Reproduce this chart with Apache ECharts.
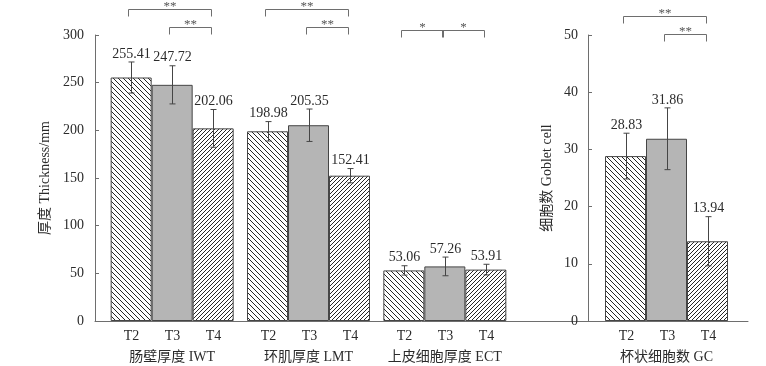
<!DOCTYPE html>
<html>
<head>
<meta charset="utf-8">
<script src="https://cdn.jsdelivr.net/npm/echarts@6/dist/echarts.min.js"></script>
<style>html,body{margin:0;padding:0;background:#fff}#c{width:766px;height:366px}</style>
</head>
<body>
<div id="c"></div>
<script>
// ---------- data ----------
const CATS_LEFT = ['肠壁厚度 IWT', '环肌厚度 LMT', '上皮细胞厚度 ECT'];
const CATS_RIGHT = ['杯状细胞数 GC'];
const TREATMENTS = ['T2', 'T3', 'T4'];
// means (left panel: thickness, mm)
const T2_LEFT = [255.41, 198.98, 53.06];
const T3_LEFT = [247.72, 205.35, 57.26];
const T4_LEFT = [202.06, 152.41, 53.91];
// standard deviations
const T2_LEFT_SD = [16.3, 10.2, 4.9];
const T3_LEFT_SD = [20.0, 17.0, 9.8];
const T4_LEFT_SD = [19.8, 7.5, 5.6];
// right panel: goblet cell count
const T2_RIGHT = [28.83];
const T3_RIGHT = [31.86];
const T4_RIGHT = [13.94];
const T2_RIGHT_SD = [4.0];
const T3_RIGHT_SD = [5.4];
const T4_RIGHT_SD = [4.3];
// significance brackets per group: [fromTreatment, toTreatment, mark]
const SIG_LEFT = [
  [[0, 2, '**'], [1, 2, '**']],
  [[0, 2, '**'], [1, 2, '**']],
  [[0, 1, '*'], [1, 2, '*']]
];
const SIG_RIGHT = [
  [[0, 2, '**'], [1, 2, '**']]
];
const Y_LEFT_MAX = 300, Y_LEFT_STEP = 50;
const Y_RIGHT_MAX = 50, Y_RIGHT_STEP = 10;

// ---------- style / layout ----------
const FONT = "'Liberation Serif', 'Noto Sans CJK SC', serif";
const TXT = '#2b2b2b';
const AXIS = '#6e6e6e';
const EDGE = '#454545';
const BAR_W = 41;
const GRID_TOP = 35, GRID_H = 286;
// bracket heights (px above plot top) per group, per bracket
const BRACKET_UP_LEFT = [[26, 8], [26, 8], [5, 5]];
const BRACKET_UP_RIGHT = [[19, 1]];

function hatch(dir, s) {
  const c = document.createElement('canvas');
  c.width = s; c.height = s;
  const g = c.getContext('2d');
  g.fillStyle = '#ffffff'; g.fillRect(0, 0, s, s);
  g.strokeStyle = '#262626'; g.lineWidth = 1;
  g.beginPath();
  for (let k = -1; k <= 1; k++) {
    if (dir === 'back') { g.moveTo(k * s, 0); g.lineTo(k * s + s, s); }
    else { g.moveTo(k * s, s); g.lineTo(k * s + s, 0); }
  }
  g.stroke();
  return c;
}
const FILL = [
  { image: hatch('back', 5), repeat: 'repeat' },
  '#b5b5b5',
  { image: hatch('fwd', 4), repeat: 'repeat' }
];

function makeRender(means, sds, sigs, ups, yMax) {
  return function (params, api) {
    const i = api.value(0);
    const base = api.coord([i, 0]);
    const top = api.coord([i, yMax])[1];
    const cx = base[0];
    const ch = [];
    const ln = { stroke: EDGE, lineWidth: 1 };
    for (let k = 0; k < 3; k++) {
      const x = Math.round(cx + (k - 1) * BAR_W) + 0.5;
      const m = means[k][i], s = sds[k][i];
      const yt = api.coord([i, m + s])[1];
      const yb = api.coord([i, m - s])[1];
      ch.push({ type: 'line', shape: { x1: x, y1: yt, x2: x, y2: yb }, style: ln });
      ch.push({ type: 'line', shape: { x1: x - 3, y1: yt, x2: x + 3, y2: yt }, style: ln });
      ch.push({ type: 'line', shape: { x1: x - 3, y1: yb, x2: x + 3, y2: yb }, style: ln });
      ch.push({ type: 'text', x: x, y: yt - 1, style: { text: m.toFixed(2), fill: TXT, font: '14px ' + FONT, align: 'center', verticalAlign: 'bottom' } });
      ch.push({ type: 'text', x: x, y: base[1] + 15, style: { text: TREATMENTS[k], fill: TXT, font: '14px ' + FONT, align: 'center', verticalAlign: 'middle' } });
    }
    (sigs[i] || []).forEach(function (sg, j) {
      const y = Math.round(top - ups[i][j]) + 0.5;
      const x1 = Math.round(cx + (sg[0] - 1) * BAR_W - 3) + 0.5;
      const x2 = Math.round(cx + (sg[1] - 1) * BAR_W - 2) + 0.5;
      ch.push({ type: 'polyline', shape: { points: [[x1, y + 7], [x1, y], [x2, y], [x2, y + 7]] }, style: { stroke: AXIS, lineWidth: 1, fill: null } });
      ch.push({ type: 'text', x: (x1 + x2) / 2, y: y - 3, style: { text: sg[2], fill: '#555', font: '13px ' + FONT, align: 'center', verticalAlign: 'middle' } });
    });
    return { type: 'group', children: ch };
  };
}

const chart = echarts.init(document.getElementById('c'), null, { renderer: 'canvas' });

const axisLabelStyle = { color: TXT, fontFamily: FONT, fontSize: 14 };

const series = [];
const leftMeans = [T2_LEFT, T3_LEFT, T4_LEFT];
const rightMeans = [T2_RIGHT, T3_RIGHT, T4_RIGHT];
for (let k = 0; k < 3; k++) {
  series.push({
    type: 'bar', name: TREATMENTS[k], xAxisIndex: 1, yAxisIndex: 1,
    data: leftMeans[k], barWidth: BAR_W, barGap: '0%',
    itemStyle: { color: FILL[k], borderColor: EDGE, borderWidth: 1 },
    silent: true, animation: false
  });
}
for (let k = 0; k < 3; k++) {
  series.push({
    type: 'bar', name: TREATMENTS[k], xAxisIndex: 2, yAxisIndex: 2,
    data: rightMeans[k], barWidth: BAR_W, barGap: '0%',
    itemStyle: { color: FILL[k], borderColor: EDGE, borderWidth: 1 },
    silent: true, animation: false
  });
}
series.push({
  type: 'custom', xAxisIndex: 1, yAxisIndex: 1, z: 5, clip: false,
  data: CATS_LEFT.map(function (c, i) { return [i, 0]; }),
  encode: { x: 0, y: 1 },
  renderItem: makeRender(leftMeans, [T2_LEFT_SD, T3_LEFT_SD, T4_LEFT_SD], SIG_LEFT, BRACKET_UP_LEFT, Y_LEFT_MAX),
  silent: true, animation: false
});
series.push({
  type: 'custom', xAxisIndex: 2, yAxisIndex: 2, z: 5, clip: false,
  data: CATS_RIGHT.map(function (c, i) { return [i, 0]; }),
  encode: { x: 0, y: 1 },
  renderItem: makeRender(rightMeans, [T2_RIGHT_SD, T3_RIGHT_SD, T4_RIGHT_SD], SIG_RIGHT, BRACKET_UP_RIGHT, Y_RIGHT_MAX),
  silent: true, animation: false
});
// frame baseline series (empty) so frame grid renders
series.push({ type: 'line', xAxisIndex: 0, yAxisIndex: 0, data: [], silent: true });

chart.setOption({
  animation: false,
  backgroundColor: '#ffffff',
  textStyle: { fontFamily: FONT },
  grid: [
    { left: 95, top: GRID_TOP, width: 653, height: GRID_H },
    { left: 104, top: GRID_TOP, width: 409, height: GRID_H },
    { left: 588, top: GRID_TOP, width: 157, height: GRID_H }
  ],
  xAxis: [
    { gridIndex: 0, type: 'value', min: 0, max: 1, axisLine: { show: true, onZero: false, lineStyle: { color: AXIS, width: 1 } }, axisTick: { show: false }, axisLabel: { show: false }, splitLine: { show: false } },
    { gridIndex: 1, type: 'category', data: CATS_LEFT, axisLine: { show: false }, axisTick: { show: false }, axisLabel: Object.assign({ margin: 29, interval: 0, hideOverlap: false }, axisLabelStyle), splitLine: { show: false } },
    { gridIndex: 2, type: 'category', data: CATS_RIGHT, axisLine: { show: false }, axisTick: { show: false }, axisLabel: Object.assign({ margin: 29, interval: 0 }, axisLabelStyle), splitLine: { show: false } }
  ],
  yAxis: [
    { gridIndex: 0, type: 'value', min: 0, max: 1, show: false },
    { gridIndex: 1, type: 'value', min: 0, max: Y_LEFT_MAX, interval: Y_LEFT_STEP, offset: 9,
      name: '厚度 Thickness/mm', nameLocation: 'middle', nameGap: 40, nameRotate: 90,
      nameTextStyle: { color: TXT, fontFamily: FONT, fontSize: 14 },
      axisLine: { show: true, lineStyle: { color: AXIS, width: 1 } },
      axisTick: { show: true, inside: true, length: 4, lineStyle: { color: AXIS } },
      axisLabel: Object.assign({ margin: 11 }, axisLabelStyle), splitLine: { show: false } },
    { gridIndex: 2, type: 'value', min: 0, max: Y_RIGHT_MAX, interval: Y_RIGHT_STEP,
      name: '细胞数 Goblet cell', nameLocation: 'middle', nameGap: 34, nameRotate: 90,
      nameTextStyle: { color: TXT, fontFamily: FONT, fontSize: 14 },
      axisLine: { show: true, lineStyle: { color: AXIS, width: 1 } },
      axisTick: { show: true, inside: true, length: 4, lineStyle: { color: AXIS } },
      axisLabel: Object.assign({ margin: 10 }, axisLabelStyle), splitLine: { show: false } }
  ],
  series: series
});
</script>
</body>
</html>
